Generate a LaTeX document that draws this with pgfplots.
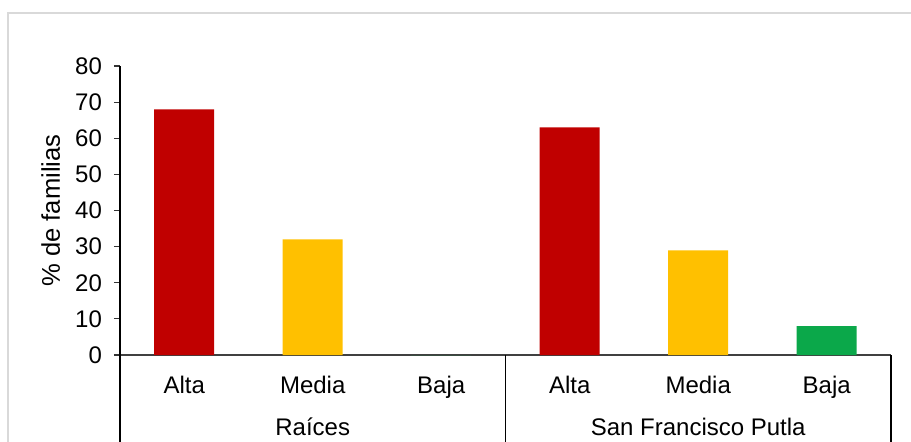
\documentclass[border=0pt]{standalone}
\usepackage{fontspec}
\setmainfont{Liberation Sans}
\usepackage{pgfplots}
\pgfplotsset{compat=1.18}

\definecolor{altared}{HTML}{C00000}
\definecolor{mediayel}{HTML}{FFC000}
\definecolor{bajagrn}{HTML}{0BA84A}
\definecolor{framegray}{HTML}{D9D9D9}

\begin{document}
\begin{tikzpicture}
% page area and clip
\useasboundingbox (-60pt,-43pt) rectangle (395.5pt,177.5pt);
\clip (-60pt,-43pt) rectangle (395.5pt,177.5pt);
% chart area frame
\draw[framegray, line width=0.8pt] (-56pt,171pt) rectangle (420pt,-80pt);
\begin{axis}[
  at={(0,0)}, anchor=south west,
  scale only axis,
  width=385.5pt, height=144.5pt,
  xmin=-0.5, xmax=5.5,
  ymin=0, ymax=80,
  ytick={0,10,...,80},
  xtick={0,...,5},
  xticklabels={Alta,Media,Baja,Alta,Media,Baja},
  axis lines*=left,
  axis line style={black, line width=0.6pt},
  x axis line style={draw=black!75},
  tick align=outside,
  major tick length=3pt,
  xtick style={draw=none},
  tick style={black!80, line width=0.6pt},
  xticklabel style={yshift=-4pt},
  yticklabel style={xshift=-2.5pt},
  font=\fontsize{12}{14}\selectfont,
  /pgf/number format/assume math mode=true,
  ylabel={\% de familias},
  ylabel style={at={(axis description cs:-0.09,0.5)}, anchor=center,
    font=\fontsize{12.8}{14}\selectfont},
  ybar, bar width=30pt, bar shift=0pt,
  clip=false,
]
\addplot[fill=altared, draw=none] coordinates {(0,68) (3,63)};
\addplot[fill=mediayel, draw=none] coordinates {(1,32) (4,29)};
\addplot[fill=bajagrn, draw=none] coordinates {(2,0) (5,8)};
% group separators below the category axis
\draw[black, line width=0.6pt] (axis cs:-0.5,0) -- ([yshift=-100pt]axis cs:-0.5,0);
\draw[black, line width=0.6pt] (axis cs:2.5,0) -- ([yshift=-100pt]axis cs:2.5,0);
\draw[black, line width=0.6pt] (axis cs:5.5,0) -- ([yshift=-100pt]axis cs:5.5,0);
\node at ([yshift=-36pt]axis cs:1,0) {Raíces};
\node at ([yshift=-36pt]axis cs:4,0) {San Francisco Putla};
\end{axis}
\end{tikzpicture}
\end{document}
